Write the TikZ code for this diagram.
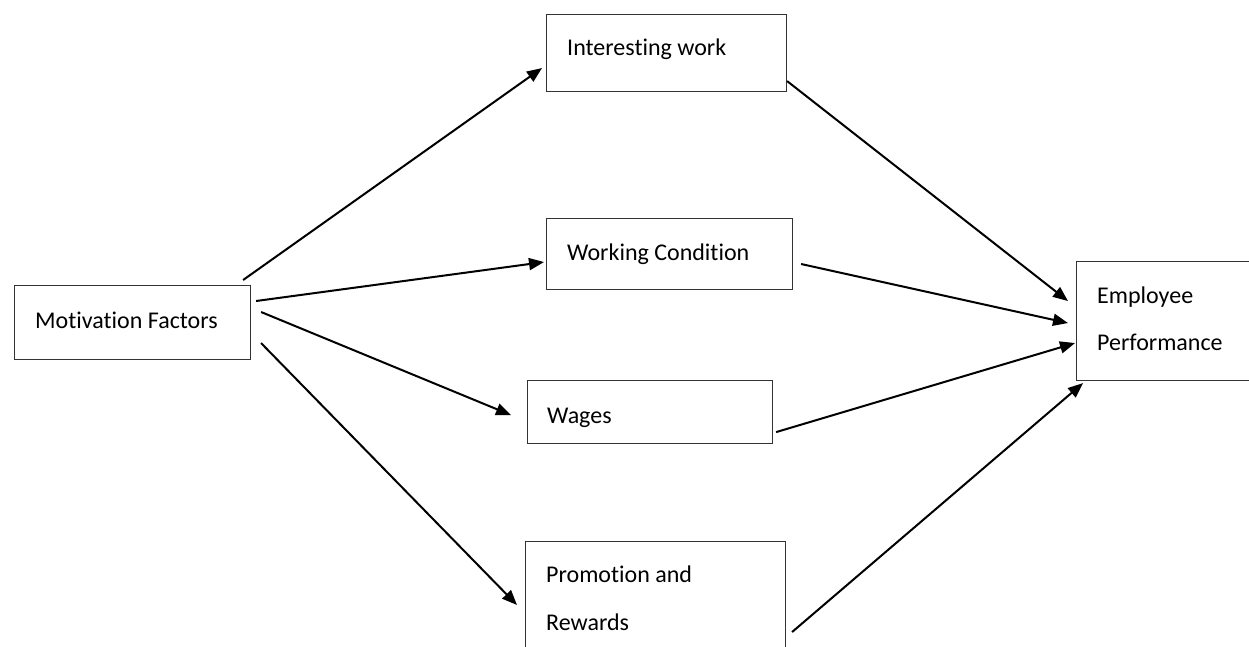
\documentclass[tikz,border=0pt]{standalone}
\usepackage{fontspec}
\setmainfont{Carlito}[Ligatures=NoCommon]
\usetikzlibrary{arrows.meta,calc}
\begin{document}
\begin{tikzpicture}[x=1pt,y=-1pt,
  box/.style={draw=black!80,line width=1.1pt,anchor=north west,inner sep=0pt},
  lbl/.style={anchor=base west,inner sep=0pt,font=\fontsize{24}{28}\selectfont},
  link/.style={line width=2pt,-{Triangle[length=15pt,width=12pt]}}]
\useasboundingbox (0,0) rectangle (1249,646);
\clip (0,0) rectangle (1249,646);
\fill[white] (0,0) rectangle (1249,646);

% boxes
\node[box,minimum width=236pt,minimum height=74pt] (mf) at (14,285) {};
\node[box,minimum width=240pt,minimum height=77pt] (iw) at (546,14) {};
\node[box,minimum width=246pt,minimum height=71pt] (wc) at (546,218) {};
\node[box,minimum width=245pt,minimum height=63pt] (wg) at (527,380) {};
\node[box,minimum width=260pt,minimum height=130pt] (pr) at (525,541) {};
\node[box,minimum width=200pt,minimum height=119pt] (ep) at (1076,261) {};

% labels
\node[lbl] (tmf) at (35,328) {Motivation Factors};
\node[lbl] (tiw) at (567,55) {Interesting work};
\node[lbl] (twc) at (567,260) {Working Condition};
\node[lbl] (twg) at (547,423) {Wages};
\node[lbl] (tpr1) at (546,582) {Promotion and};
\node[lbl] (tpr2) at (546,630) {Rewards};
\node[lbl] (tep1) at (1097,303) {Employee};
\node[lbl] (tep2) at (1097,350) {Performance};

% motivation factors to the four factors
\draw[link] ($(mf.north east)+(-8,-5)$) -- ($(iw.west)+(-4,15)$);
\draw[link] ($(mf.north east)+(5,16)$) -- ($(wc.west)+(-2,8)$);
\draw[link] ($(mf.north east)+(10,27)$) -- ($(wg.west)+(-16,3)$);
\draw[link] ($(mf.south east)+(10,-17)$) -- ($(pr.north west)+(-8,64)$);

% the four factors to employee performance
\draw[link] ($(iw.south east)+(0,-11)$) -- ($(ep.west)+(-8,-20)$);
\draw[link] ($(wc.north east)+(8,46)$) -- ($(ep.west)+(-8,2)$);
\draw[link] ($(wg.south east)+(3,-12)$) -- ($(ep.west)+(-1,22)$);
\draw[link] ($(pr.north east)+(6,91)$) -- ($(ep.south west)+(7,2)$);
\end{tikzpicture}
\end{document}
